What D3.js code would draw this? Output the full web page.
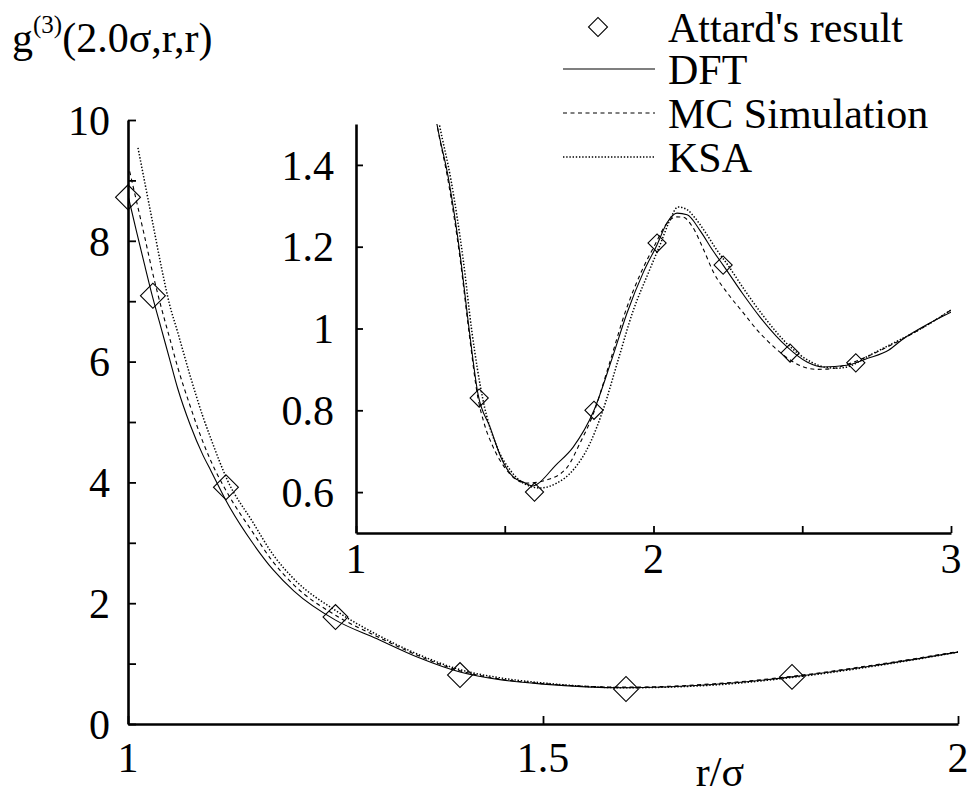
<!DOCTYPE html>
<html>
<head>
<meta charset="utf-8">
<script src="https://cdn.jsdelivr.net/npm/d3@7"></script>
<style>
  body { margin: 0; background: #fff; }
</style>
</head>
<body>
<svg id="chart" width="973" height="799" font-family="'Liberation Serif', 'Times New Roman', Times, 'DejaVu Serif', serif"></svg>
<script>
// ---- main panel data (r/sigma vs g3) ----
const dftR = [1.0, 1.01, 1.02, 1.03, 1.04, 1.05, 1.06, 1.075, 1.09, 1.1, 1.12, 1.15, 1.175, 1.2, 1.25, 1.3, 1.35, 1.4, 1.45, 1.5, 1.6, 1.7, 1.8, 1.9, 2.0];
const dftG = [8.75, 8.17, 7.6, 7.05, 6.55, 6.05, 5.55, 4.95, 4.46, 4.19, 3.65, 3.0, 2.55, 2.2, 1.72, 1.41, 1.1, 0.86, 0.73, 0.66, 0.6, 0.65, 0.78, 0.97, 1.19];

const mcR = [1.002, 1.01, 1.02, 1.03, 1.04, 1.05, 1.06, 1.075, 1.09, 1.1, 1.12, 1.15, 1.175, 1.2, 1.25, 1.3, 1.35, 1.4, 1.45, 1.5, 1.6, 1.7, 1.8, 1.9, 2.0];
const mcG = [9.15, 8.67, 8.07, 7.45, 6.9, 6.4, 5.9, 5.26, 4.68, 4.35, 3.82, 3.18, 2.68, 2.3, 1.8, 1.45, 1.13, 0.88, 0.74, 0.67, 0.61, 0.66, 0.79, 0.98, 1.2];

const ksaR = [1.012, 1.02, 1.03, 1.04, 1.05, 1.06, 1.075, 1.09, 1.1, 1.12, 1.15, 1.175, 1.2, 1.25, 1.3, 1.35, 1.4, 1.45, 1.5, 1.6, 1.7, 1.8, 1.9, 2.0];
const ksaG = [9.54, 8.98, 8.28, 7.58, 6.95, 6.48, 5.76, 5.1, 4.72, 4.03, 3.35, 2.8, 2.4, 1.88, 1.48, 1.15, 0.9, 0.76, 0.68, 0.6, 0.64, 0.77, 0.96, 1.19];

const attardR = [1.0, 1.03, 1.118, 1.25, 1.4, 1.6, 1.8];
const attardG = [8.72, 7.09, 3.92, 1.77, 0.81, 0.58, 0.78];

// ---- inset data ----
const insDftR = [1.25, 1.272, 1.31, 1.35, 1.38, 1.41, 1.45, 1.494, 1.53, 1.56, 1.595, 1.61, 1.67, 1.73, 1.8, 1.86, 1.911, 1.965, 2.012, 2.045, 2.079, 2.113, 2.156, 2.2, 2.234, 2.3, 2.358, 2.449, 2.516, 2.57, 2.65, 2.72, 2.79, 2.84, 2.92, 3.0];
const insDftG = [1.6, 1.5, 1.37, 1.18, 1.0, 0.84, 0.76, 0.674, 0.636, 0.625, 0.615, 0.62, 0.665, 0.71, 0.8, 0.925, 1.038, 1.136, 1.205, 1.258, 1.282, 1.278, 1.24, 1.19, 1.155, 1.085, 1.028, 0.955, 0.918, 0.906, 0.91, 0.927, 0.947, 0.975, 1.01, 1.04];

const insMcR = [1.25, 1.272, 1.31, 1.35, 1.38, 1.41, 1.43, 1.461, 1.5, 1.54, 1.575, 1.642, 1.709, 1.753, 1.797, 1.85, 1.905, 1.96, 2.005, 2.04, 2.075, 2.1, 2.13, 2.17, 2.2, 2.25, 2.3, 2.35, 2.4, 2.45, 2.5, 2.55, 2.6, 2.65, 2.72, 2.8, 2.9, 3.0];
const insMcG = [1.6, 1.5, 1.36, 1.17, 0.99, 0.83, 0.77, 0.71, 0.66, 0.63, 0.622, 0.63, 0.66, 0.72, 0.79, 0.91, 1.04, 1.14, 1.205, 1.252, 1.273, 1.272, 1.25, 1.19, 1.14, 1.085, 1.04, 0.995, 0.958, 0.928, 0.907, 0.9, 0.902, 0.912, 0.932, 0.96, 1.0, 1.045];

const insKsaR = [1.25, 1.28, 1.32, 1.36, 1.39, 1.427, 1.474, 1.518, 1.575, 1.618, 1.675, 1.73, 1.787, 1.83, 1.88, 1.93, 1.985, 2.025, 2.055, 2.082, 2.11, 2.14, 2.17, 2.21, 2.25, 2.31, 2.37, 2.46, 2.53, 2.58, 2.62, 2.66, 2.72, 2.8, 2.9, 3.0];
const insKsaG = [1.62, 1.5, 1.36, 1.17, 0.99, 0.825, 0.71, 0.654, 0.617, 0.61, 0.622, 0.654, 0.72, 0.8, 0.92, 1.04, 1.14, 1.21, 1.265, 1.297, 1.292, 1.27, 1.24, 1.195, 1.155, 1.09, 1.03, 0.955, 0.918, 0.905, 0.903, 0.908, 0.932, 0.962, 1.0, 1.045];

const insAttardR = [1.414, 1.6, 1.8, 2.012, 2.234, 2.459, 2.68];
const insAttardG = [0.83, 0.6, 0.8, 1.209, 1.155, 0.94, 0.916];

// ticks and labels
const mainXTicks = [1, 1.5, 2];
const mainYTicks = [0, 1, 2, 3, 4, 5, 6, 7, 8, 9, 10];
const mainYLabels = [0, 2, 4, 6, 8, 10];
const insXTicks = [1, 1.5, 2, 2.5, 3];
const insXLabels = [1, 2, 3];
const insYTicks = [0.6, 0.8, 1.0, 1.2, 1.4];
const legendLabels = ["Attard's result", "DFT", "MC Simulation", "KSA"];

const svg = d3.select("#chart");
const FS = 42;

const zip = (xs, ys) => xs.map((x, i) => ({ x: x, y: ys[i] }));

const styles = {
    dft: { dash: null, width: 1.1 },
    mc: { dash: "4,3.5", width: 1.1 },
    ksa: { dash: "1.4,1.8", width: 1.5 }
};

// draws a panel: axes + curves + diamonds
function drawPanel(opts) {
    const x = d3.scaleLinear().domain(opts.xDomain).range(opts.xRange);
    const y = d3.scaleLinear().domain(opts.yDomain).range(opts.yRange);
    const g = svg.append("g");

    g.append("clipPath").attr("id", opts.id + "-clip")
        .append("rect")
        .attr("x", opts.xRange[0]).attr("y", opts.yRange[1])
        .attr("width", opts.xRange[1] - opts.xRange[0])
        .attr("height", opts.yRange[0] - opts.yRange[1]);

    const line = d3.line().x(d => x(d.x)).y(d => y(d.y)).curve(d3.curveMonotoneX);

    const plot = g.append("g").attr("clip-path", `url(#${opts.id}-clip)`);
    opts.series.forEach(s => {
        plot.append("path")
            .datum(zip(s.r, s.g))
            .attr("fill", "none")
            .attr("stroke", "#000")
            .attr("stroke-width", styles[s.kind].width)
            .attr("stroke-dasharray", styles[s.kind].dash)
            .attr("d", line);
    });

    g.selectAll(".dia")
        .data(zip(opts.pointsR, opts.pointsG))
        .enter()
        .append("path")
        .attr("d", d3.symbol().type(d3.symbolSquare).size(opts.diaSize))
        .attr("transform", d => `translate(${x(d.x)},${y(d.y)}) rotate(45)`)
        .attr("fill", "none")
        .attr("stroke", "#000")
        .attr("stroke-width", 1.1);

    // ticks point inwards, no labels from the axis itself
    const xAxis = d3.axisBottom(x).tickValues(opts.xTicks).tickSize(-opts.tick).tickSizeOuter(0).tickFormat("");
    const yAxis = d3.axisLeft(y).tickValues(opts.yTicks).tickSize(-opts.tick).tickSizeOuter(0).tickFormat("");

    const gx = g.append("g").attr("transform", `translate(0,${opts.yRange[0]})`).call(xAxis);
    const gy = g.append("g").attr("transform", `translate(${opts.xRange[0]},0)`).call(yAxis);
    [gx, gy].forEach(a => {
        a.select(".domain").attr("stroke-width", 2.6).attr("stroke", "#000");
        a.selectAll(".tick line").attr("stroke-width", 1.8).attr("stroke", "#000");
    });

    g.selectAll(".xl")
        .data(opts.xLabels)
        .enter()
        .append("text")
        .attr("x", d => x(d))
        .attr("y", opts.yRange[0] + opts.xLabelDy)
        .attr("text-anchor", "middle")
        .attr("font-size", FS)
        .text(d => d);

    g.selectAll(".yl")
        .data(opts.yLabels)
        .enter()
        .append("text")
        .attr("x", opts.xRange[0] - opts.yLabelDx)
        .attr("y", d => y(d))
        .attr("dy", "0.35em")
        .attr("text-anchor", "end")
        .attr("font-size", FS)
        .text(d => d);

    return { x, y };
}

drawPanel({
    id: "main",
    xDomain: [1, 2], xRange: [128, 958],
    yDomain: [0, 10], yRange: [724, 120],
    series: [
        { kind: "dft", r: dftR, g: dftG },
        { kind: "mc", r: mcR, g: mcG },
        { kind: "ksa", r: ksaR, g: ksaG }
    ],
    pointsR: attardR, pointsG: attardG, diaSize: 310,
    xTicks: mainXTicks, yTicks: mainYTicks,
    xLabels: mainXTicks, yLabels: mainYLabels,
    tick: 8, xLabelDy: 48, yLabelDx: 18
});

drawPanel({
    id: "inset",
    xDomain: [1, 3], xRange: [356, 951],
    yDomain: [0.5, 1.5], yRange: [533, 124],
    series: [
        { kind: "dft", r: insDftR, g: insDftG },
        { kind: "mc", r: insMcR, g: insMcG },
        { kind: "ksa", r: insKsaR, g: insKsaG }
    ],
    pointsR: insAttardR, pointsG: insAttardG, diaSize: 165,
    xTicks: insXTicks, yTicks: insYTicks,
    xLabels: insXLabels, yLabels: insYTicks,
    tick: 7, xLabelDy: 40, yLabelDx: 22
});

// axis titles
const yTitle = svg.append("text").attr("x", 12).attr("y", 52).attr("font-size", FS);
yTitle.append("tspan").text("g");
yTitle.append("tspan").attr("font-size", 25).attr("dy", -19).text("(3)");
yTitle.append("tspan").attr("dy", 19).text("(2.0σ,r,r)");

svg.append("text")
    .attr("x", 720).attr("y", 786)
    .attr("text-anchor", "middle")
    .attr("font-size", FS)
    .text("r/σ");

// legend
const legendY = [27, 69, 113, 157];
const legend = svg.append("g");
legend.append("path")
    .attr("d", d3.symbol().type(d3.symbolSquare).size(180))
    .attr("transform", `translate(598,${legendY[0]}) rotate(45)`)
    .attr("fill", "none").attr("stroke", "#000").attr("stroke-width", 1.1);
["dft", "mc", "ksa"].forEach((k, i) => {
    legend.append("line")
        .attr("x1", 563).attr("x2", 655)
        .attr("y1", legendY[i + 1]).attr("y2", legendY[i + 1])
        .attr("stroke", "#000")
        .attr("stroke-width", styles[k].width)
        .attr("stroke-dasharray", styles[k].dash);
});
legend.selectAll("text")
    .data(legendLabels)
    .enter()
    .append("text")
    .attr("x", 668)
    .attr("y", (d, i) => legendY[i])
    .attr("dy", "0.35em")
    .attr("font-size", FS)
    .text(d => d);
</script>
</body>
</html>
